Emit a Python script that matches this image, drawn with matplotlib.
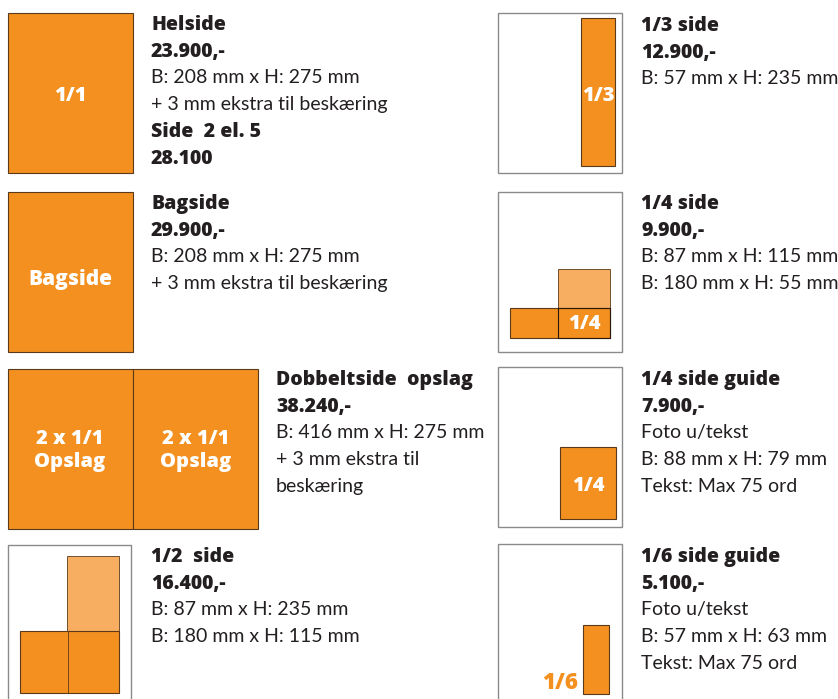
import matplotlib.pyplot as plt
from matplotlib.patches import Rectangle

# annonce-priser
titles = ["Helside", "Bagside", "Dobbeltside  opslag", "1/2  side",
          "1/3 side", "1/4 side", "1/4 side guide", "1/6 side guide"]
prices = ["23.900,-", "29.900,-", "38.240,-", "16.400,-",
          "12.900,-", "9.900,-", "7.900,-", "5.100,-"]
details = [
    ["B: 208 mm x H: 275 mm", "+ 3 mm ekstra til beskæring"],
    ["B: 208 mm x H: 275 mm", "+ 3 mm ekstra til beskæring"],
    ["B: 416 mm x H: 275 mm", "+ 3 mm ekstra til", "beskæring"],
    ["B: 87 mm x H: 235 mm", "B: 180 mm x H: 115 mm"],
    ["B: 57 mm x H: 235 mm"],
    ["B: 87 mm x H: 115 mm", "B: 180 mm x H: 55 mm"],
    ["Foto u/tekst", "B: 88 mm x H: 79 mm", "Tekst: Max 75 ord"],
    ["Foto u/tekst", "B: 57 mm x H: 63 mm", "Tekst: Max 75 ord"],
]
extra_bold = {0: ["Side  2 el. 5", "28.100"]}

ORANGE = "#F39020"
LIGHT = "#F8AE60"
EDGE = "#5a3a1a"
TXT = "#231f20"
GREY = "#8a8a8a"

fig = plt.figure(figsize=(8.38, 6.99), dpi=100)
ax = fig.add_axes([0, 0, 1, 1])
ax.set_xlim(0, 838)
ax.set_ylim(699, 0)
ax.axis("off")

FS = 14
HFS = 14
HFONT = "Open Sans"
STEP = 26.7
text_x = [151, 151, 276, 151, 641, 641, 641, 641]
text_y = [30, 209, 385, 562, 31, 209, 385, 562]

for i in range(8):
    x, y = text_x[i], text_y[i]
    ax.text(x, y, titles[i], fontsize=HFS, fontweight="heavy", family=HFONT,
            color=TXT, va="baseline")
    ax.text(x, y + STEP, prices[i], fontsize=HFS, fontweight="heavy", family=HFONT,
            color=TXT, va="baseline")
    k = 2
    for line in details[i]:
        ax.text(x, y + k * STEP, line, fontsize=FS, family="Lato", color=TXT, va="baseline")
        k += 1
    for line in extra_bold.get(i, []):
        ax.text(x, y + k * STEP, line, fontsize=HFS, fontweight="heavy", family=HFONT,
                color=TXT, va="baseline")
        k += 1


def box(x0, y0, x1, y1, fc, ec=EDGE, lw=0.8, z=2):
    ax.add_patch(Rectangle((x0, y0), x1 - x0, y1 - y0, facecolor=fc, edgecolor=ec,
                           linewidth=lw, zorder=z))


def label(x, y, s, color="white", fs=14.5):
    ax.text(x, y, s, fontsize=fs, fontweight="heavy", family=HFONT, color=color,
            ha="center", va="center", zorder=5, linespacing=1.2)


# venstre kolonne
box(8, 13, 133, 173, ORANGE)
label(70, 96, "1/1")
box(8, 192, 133, 352, ORANGE)
label(70, 280, "Bagside", fs=15)
box(8, 369, 133, 529, ORANGE)
box(133, 369, 258, 529, ORANGE)
label(70, 451, "2 x 1/1\nOpslag", fs=14.5)
label(196, 451, "2 x 1/1\nOpslag", fs=14.5)

# 1/2 side
box(8, 545, 131, 720, "white", ec=GREY, lw=1.0, z=1)
box(67, 556, 119, 632, LIGHT, lw=0.6)
box(20, 631, 119, 693, ORANGE)
ax.plot([68, 68], [631, 693], color=EDGE, lw=0.6, zorder=3)

# højre kolonne
box(498, 13, 622, 173, "white", ec=GREY, lw=1.0, z=1)
box(581, 18, 615, 166, ORANGE)
label(598, 96, "1/3")

box(498, 192, 622, 352, "white", ec=GREY, lw=1.0, z=1)
box(558, 269, 610, 308, LIGHT, lw=0.6)
box(510, 308, 610, 338, ORANGE)
ax.plot([558, 558], [308, 338], color=EDGE, lw=0.6, zorder=3)
ax.plot([558, 610, 610, 558, 558], [308, 308, 338, 338, 308], color="#2a1a0a", lw=0.8, zorder=3)
label(584, 324, "1/4")

box(498, 367, 622, 527, "white", ec=GREY, lw=1.0, z=1)
box(560, 447, 616, 519, ORANGE)
label(588, 486, "1/4")

box(498, 544, 622, 720, "white", ec=GREY, lw=1.0, z=1)
box(583, 625, 609, 694, ORANGE)
label(560, 683, "1/6", color=ORANGE, fs=16)

fig.savefig("out.png", dpi=100)
